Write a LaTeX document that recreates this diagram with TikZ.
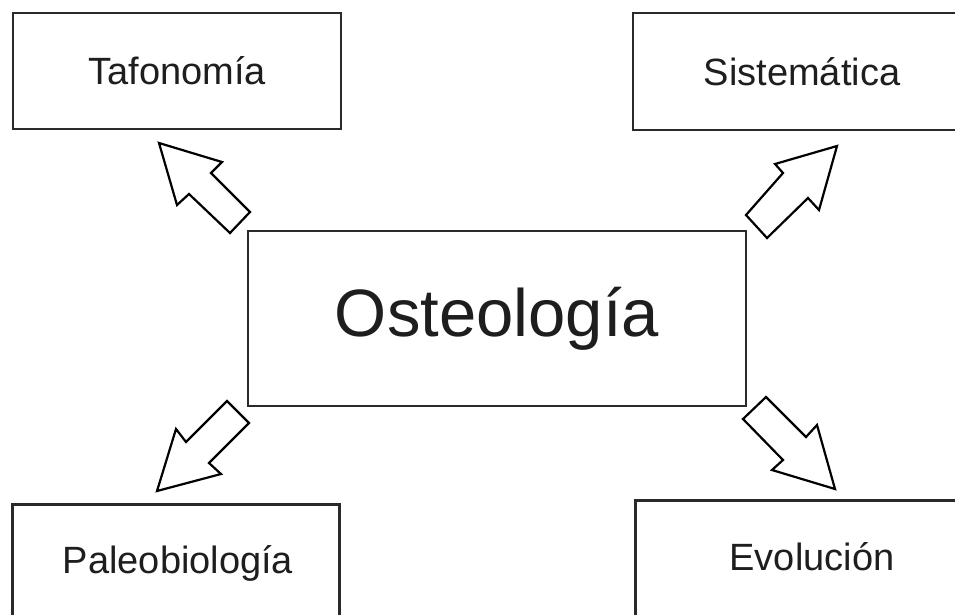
\documentclass[tikz,border=0pt]{standalone}
\usepackage{fontspec}
\setmainfont{Liberation Sans}
\definecolor{ink}{HTML}{1E1E1E}
\definecolor{edge}{HTML}{2A2A2A}
\begin{document}
\begin{tikzpicture}[x=1pt,y=-1pt,
  box/.style={draw=edge,line width=2.6pt,fill=white,rectangle,inner sep=0pt,text=ink,font=\fontsize{38}{40}\selectfont},
  lbl/.style={inner sep=0pt,text=ink,font=\fontsize{38}{40}\selectfont},
  bigbox/.style={box,font=\fontsize{67}{70}\selectfont},
  blockarrow/.style={draw=black,line width=2.2pt,fill=white,line join=miter}]
\fill[white] (0,0) rectangle (955,614);
\useasboundingbox (0,0) rectangle (955,614);
\clip (0,0) rectangle (955,614);
\node[box,minimum width=328pt,minimum height=116pt] (taf) at (177,71) {Tafonom\'{\i}a};
\node[box,minimum width=338pt,minimum height=117pt] (sis) at (802,71.5) {Sistem\'atica};
\node[box,minimum width=327pt,minimum height=140pt,anchor=north west] (pal) at (11,503) {};
\node[lbl] (paltext) at (178,563) {Paleobiolog\'{\i}a};
\node[box,minimum width=356pt,minimum height=140pt,anchor=north west] (evo) at (634,499) {};
\node[lbl] (evotext) at (812,557) {Evoluci\'on};
\node[bigbox,minimum width=498pt,minimum height=175pt] (ost) at (497,318.5) {Osteolog\'{\i}a};
% block arrows
\draw[blockarrow] (159,143) -- (222,162) -- (211,173) -- (250,212) -- (230,233) -- (189,194) -- (177,205) -- cycle;
\draw[blockarrow] (837,146) -- (819,210) -- (808,198) -- (767,238) -- (746,215) -- (783,173) -- (775,164) -- cycle;
\draw[blockarrow] (157,491) -- (176,429) -- (186,442) -- (227,401) -- (249,423) -- (209,463) -- (221,474) -- cycle;
\draw[blockarrow] (835,489) -- (772,470) -- (783,460) -- (743,419) -- (766,397) -- (806,437) -- (817,425) -- cycle;
\end{tikzpicture}
\end{document}
